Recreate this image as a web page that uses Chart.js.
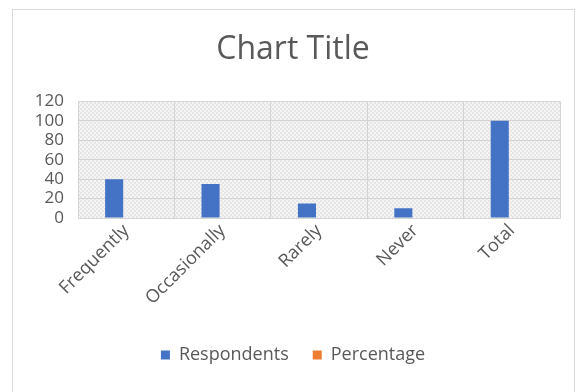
<!DOCTYPE html>
<html>
<head>
<meta charset="utf-8">
<script src="https://cdn.jsdelivr.net/npm/chart.js@4"></script>
<style>
  html, body { margin: 0; padding: 0; background: #fff; }
  #wrap { position: absolute; left: 0; top: 0; width: 584px; height: 392px; }
  #frame { position: absolute; left: 12px; top: 9px; width: 561px; height: 390px; border: 1px solid #d9d9d9; }
</style>
</head>
<body>
<div id="wrap">
  <div id="frame"></div>
  <canvas id="chart" width="584" height="392"></canvas>
</div>
<script>
// chart data
const categories = ['Frequently', 'Occasionally', 'Rarely', 'Never', 'Total'];
const respondents = [40, 35, 15, 10, 100];
const percentage = [0, 0, 0, 0, 0]; // no visible bars in the picture
const yTicks = [0, 20, 40, 60, 80, 100, 120];

const textColor = '#595959';
const gridColor = '#d4d4d4';

// hatched plot background, like the Excel pattern fill
function makePattern() {
  const c = document.createElement('canvas');
  c.width = 4;
  c.height = 4;
  const g = c.getContext('2d');
  g.fillStyle = '#f5f5f5';
  g.fillRect(0, 0, 4, 4);
  g.fillStyle = '#e6e6e6';
  g.fillRect(0, 0, 2, 2);
  g.fillRect(2, 2, 2, 2);
  return g.createPattern(c, 'repeat');
}

const plotBackground = {
  id: 'plotBackground',
  beforeDraw(chart) {
    const { ctx, chartArea: a } = chart;
    ctx.save();
    ctx.fillStyle = makePattern();
    ctx.fillRect(a.left, a.top, a.right - a.left, a.bottom - a.top);
    ctx.restore();
  },
};

const ctx = document.getElementById('chart').getContext('2d');
new Chart(ctx, {
  type: 'bar',
  data: {
    labels: categories,
    datasets: [
      {
        label: 'Respondents',
        data: respondents,
        backgroundColor: '#4472c4',
        borderWidth: 0,
      },
      {
        label: 'Percentage',
        data: percentage,
        backgroundColor: '#ed7d31',
        borderWidth: 0,
      },
    ],
  },
  options: {
    responsive: false,
    animation: false,
    devicePixelRatio: 1,
    categoryPercentage: 0.5,
    barPercentage: 0.75,
    layout: { padding: { left: 26, right: 24, top: 10, bottom: 18 } },
    plugins: {
      title: {
        display: true,
        text: 'Chart Title',
        color: textColor,
        font: { family: 'Open Sans', size: 32, weight: 'normal' },
        padding: { top: 21, bottom: 32 },
      },
      legend: {
        position: 'bottom',
        labels: {
          color: textColor,
          font: { family: 'Open Sans', size: 18 },
          boxWidth: 9,
          boxHeight: 9,
          padding: 24,
        },
      },
      tooltip: { enabled: false },
    },
    scales: {
      x: {
        grid: { color: gridColor, offset: true, drawTicks: false },
        border: { color: gridColor },
        ticks: {
          color: textColor,
          font: { family: 'Open Sans', size: 18 },
          maxRotation: 45,
          minRotation: 45,
          padding: 2,
        },
        afterFit(scale) { scale.height = 104; },
      },
      y: {
        min: 0,
        max: 120,
        afterBuildTicks(scale) { scale.ticks = yTicks.map((v) => ({ value: v })); },
        grid: { color: gridColor, drawTicks: false },
        border: { color: gridColor },
        ticks: {
          color: textColor,
          font: { family: 'Open Sans', size: 17 },
          padding: 14,
          autoSkip: false,
        },
        afterFit(scale) { scale.width = 52; },
      },
    },
  },
  plugins: [plotBackground],
});
</script>
</body>
</html>
